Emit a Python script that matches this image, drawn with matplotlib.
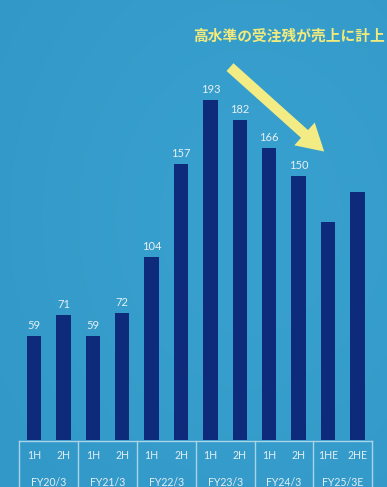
import matplotlib.pyplot as plt
import numpy as np
from matplotlib.patches import FancyArrowPatch

plt.rcParams['font.family'] = ['Noto Sans CJK JP', 'DejaVu Sans']

halves = ['1H', '2H', '1H', '2H', '1H', '2H', '1H', '2H', '1H', '2H', '1HE', '2HE']
years = ['FY20/3', 'FY21/3', 'FY22/3', 'FY23/3', 'FY24/3', 'FY25/3E']
values = [59, 71, 59, 72, 104, 157, 193, 182, 166, 150, 124, 141]
labels = ['59', '71', '59', '72', '104', '157', '193', '182', '166', '150', '', '']
headline = '高水準の受注残が売上に計上'

fig = plt.figure(figsize=(3.87, 4.87), dpi=100)
ax = fig.add_axes([0, 0, 1, 1])
ax.set_xlim(-1.163, 12.01)
ax.set_ylim(-26.7, 250)
ax.axis('off')

# soft blue background
gx, gy = np.meshgrid(np.linspace(0, 1, 200), np.linspace(0, 1, 250))
shade = 0.6 + 0.4 * np.exp(-((gx - 0.65) ** 2 + (gy - 0.45) ** 2) / 0.4)
dark = np.array([0x26, 0x88, 0xbb]) / 255
light = np.array([0x38, 0xa0, 0xce]) / 255
bg = dark + (light - dark) * shade[..., None]
ax.imshow(bg, extent=(-1.163, 12.01, -26.7, 250), aspect='auto', zorder=0)

x = np.arange(len(values))
ax.bar(x, values, width=0.49, color='#0d2b7a', zorder=2)
for xi, v, lab in zip(x, values, labels):
    if lab:
        ax.annotate(lab, (xi, v), xytext=(0, 5), textcoords='offset pixels',
                    ha='center', va='bottom', fontsize=8, family='Lato',
                    color='#e8f0f4', zorder=3)

# category box under the bars
line_kw = dict(color='#a9d3e8', lw=1, zorder=3)
ax.plot([-0.5, 11.5], [-0.7, -0.7], **line_kw)
for b in np.arange(-0.5, 12, 2):
    ax.plot([b, b], [-0.7, -30], **line_kw)
for xi, h in zip(x, halves):
    ax.text(xi, -8.6, h, ha='center', va='center', fontsize=7.6, family='Lato',
            color='#e2eef4', zorder=3)
for i, y in enumerate(years):
    ax.text(2 * i + 0.5, -24.0, y, ha='center', va='center', fontsize=7.6, family='Lato',
            color='#e2eef4', zorder=3)

fig.text(0.747, 0.927, headline, ha='center', va='center', fontsize=10.6,
         fontweight='bold', color='#f2ea7c')

arrow = FancyArrowPatch((0.589, 0.866), (0.843, 0.685), transform=fig.transFigure,
                        arrowstyle='simple,head_width=2.2,head_length=1.9,tail_width=0.75',
                        mutation_scale=10, color='#f3ec84', lw=0, zorder=5)
fig.patches.append(arrow)

fig.savefig('out.png', dpi=100)
